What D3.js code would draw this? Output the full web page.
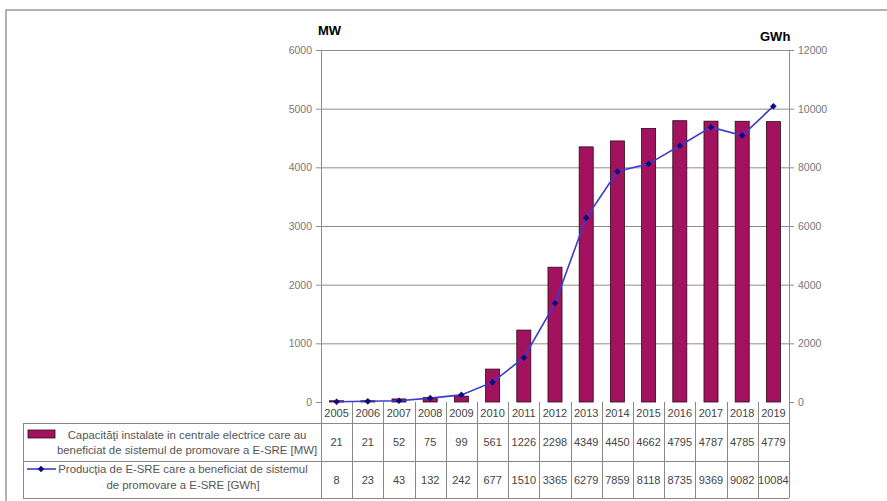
<!DOCTYPE html>
<html>
<head>
<meta charset="utf-8">
<script src="https://cdn.jsdelivr.net/npm/d3@7"></script>
<style>
  body { margin: 0; background: #fff; }
  svg { display: block; font-family: "Liberation Sans Narrow", "Liberation Sans", Arial, sans-serif; }
  .cell { fill: #444; font-size: 11px; }
  .leg { fill: #555; font-size: 11.4px; }
</style>
</head>
<body>
<svg width="887" height="501"></svg>
<script>
// data
let years = ["2005","2006","2007","2008","2009","2010","2011","2012","2013","2014","2015","2016","2017","2018","2019"];
let capacity = [21, 21, 52, 75, 99, 561, 1226, 2298, 4349, 4450, 4662, 4795, 4787, 4785, 4779];   // MW
let production = [8, 23, 43, 132, 242, 677, 1510, 3365, 6279, 7859, 8118, 8735, 9369, 9082, 10084]; // GWh
let leftTicks = [0, 1000, 2000, 3000, 4000, 5000, 6000];
let rightTicks = [0, 2000, 4000, 6000, 8000, 10000, 12000];
let legendCap = ["Capacităţi instalate in centrale electrice care au", "beneficiat de sistemul de promovare a E-SRE [MW]"];
let legendProd = ["Producţia de E-SRE care a beneficiat de sistemul", "de promovare a E-SRE [GWh]"];

let svg = d3.select("svg");

// plot box
let pLeft = 321, pRight = 789, pTop = 50, pBottom = 402;
let gridCol = "#8c8c8c";

let x = d3.scaleBand().domain(years).range([pLeft, pRight]).paddingInner(0.55).paddingOuter(0.275);
let xc = d3.scaleBand().domain(years).range([pLeft, pRight]); // table columns
let yL = d3.scaleLinear().domain([0, 6000]).range([pBottom, pTop]);
let yR = d3.scaleLinear().domain([0, 12000]).range([pBottom, pTop]);

// outer frame
svg.append("path")
  .attr("d", "M6,501 V10 H887")
  .style("fill", "none").style("stroke", "#999").style("stroke-width", 1.5);

// gridlines
svg.append("g")
  .selectAll("line")
  .data(leftTicks.slice(1))
  .join("line")
  .attr("x1", pLeft).attr("x2", pRight)
  .attr("y1", d => yL(d) + 0.5).attr("y2", d => yL(d) + 0.5)
  .style("stroke", gridCol).style("stroke-width", 1);

// axes
let axL = svg.append("g")
  .attr("transform", "translate(" + pLeft + ",0)")
  .call(d3.axisLeft(yL).tickValues(leftTicks).tickSize(5).tickPadding(4).tickFormat(d3.format("d")));
let axR = svg.append("g")
  .attr("transform", "translate(" + pRight + ",0)")
  .call(d3.axisRight(yR).tickValues(rightTicks).tickSize(5).tickPadding(4).tickFormat(d3.format("d")));
[axL, axR].forEach(a => {
  a.select(".domain").style("stroke", gridCol).attr("d", "M0.5," + pTop + "V" + pBottom);
  a.selectAll(".tick line").style("stroke", gridCol);
  a.selectAll(".tick text").style("font-size", "10.5px").style("fill", "#777")
    .style("font-family", "Liberation Sans Narrow, Liberation Sans, Arial");
});

// axis unit labels
svg.append("text").attr("x", 318).attr("y", 35)
  .style("font-weight", "bold").style("font-size", "13px").text("MW");
svg.append("text").attr("x", 760).attr("y", 41)
  .style("font-weight", "bold").style("font-size", "13px").text("GWh");

// bars
svg.append("g")
  .selectAll("rect")
  .data(capacity)
  .join("rect")
  .attr("x", (d, i) => x(years[i]))
  .attr("y", d => yL(d))
  .attr("width", x.bandwidth())
  .attr("height", d => pBottom - yL(d))
  .style("fill", "#a3125e")
  .style("stroke", "#2a0a18")
  .style("stroke-width", 0.8);

// line + markers
let line = d3.line()
  .x((d, i) => xc(years[i]) + xc.bandwidth() / 2)
  .y(d => yR(d));

svg.append("path")
  .datum(production)
  .attr("d", line)
  .style("fill", "none")
  .style("stroke", "#3b3bcc")
  .style("stroke-width", 1.6);

// square diamond marker (rotated square)
let diamond = d3.symbol().type(d3.symbolSquare).size(22);
svg.append("g")
  .selectAll("path")
  .data(production)
  .join("path")
  .attr("d", diamond)
  .attr("transform", (d, i) => "translate(" + (xc(years[i]) + xc.bandwidth() / 2) + "," + yR(d) + ") rotate(45)")
  .style("fill", "#0c0c80");

// data table
let tblLeft = 23, rowYear = 423, row1 = 461, row2 = 498;
let tbl = svg.append("g").style("stroke", "#888").style("stroke-width", 1);

// horizontal rules
tbl.append("line").attr("x1", tblLeft).attr("x2", pRight).attr("y1", rowYear + 0.5).attr("y2", rowYear + 0.5);
tbl.append("line").attr("x1", tblLeft).attr("x2", pRight).attr("y1", row1 + 0.5).attr("y2", row1 + 0.5);
tbl.append("line").attr("x1", tblLeft).attr("x2", pRight).attr("y1", row2 + 0.5).attr("y2", row2 + 0.5);
// vertical rules
tbl.append("line").attr("x1", tblLeft + 0.5).attr("x2", tblLeft + 0.5).attr("y1", rowYear).attr("y2", row2);
tbl.selectAll(".vcol")
  .data(years)
  .join("line")
  .attr("class", "vcol")
  .attr("x1", d => Math.round(xc(d)) + 0.5).attr("x2", d => Math.round(xc(d)) + 0.5)
  .attr("y1", pBottom).attr("y2", row2);
tbl.append("line").attr("x1", pRight + 0.5).attr("x2", pRight + 0.5).attr("y1", pBottom).attr("y2", row2);

// year labels
svg.append("g")
  .selectAll("text")
  .data(years)
  .join("text")
  .attr("class", "cell")
  .attr("x", d => xc(d) + xc.bandwidth() / 2)
  .attr("y", 417)
  .attr("text-anchor", "middle")
  .text(d => d);

// value rows
svg.append("g")
  .selectAll("text")
  .data(capacity)
  .join("text")
  .attr("class", "cell")
  .attr("x", (d, i) => xc(years[i]) + xc.bandwidth() / 2)
  .attr("y", 446)
  .attr("text-anchor", "middle")
  .text(d => d);

svg.append("g")
  .selectAll("text")
  .data(production)
  .join("text")
  .attr("class", "cell")
  .attr("x", (d, i) => xc(years[i]) + xc.bandwidth() / 2)
  .attr("y", 484)
  .attr("text-anchor", "middle")
  .text(d => d);

// legend cells
svg.append("rect")
  .attr("x", 28).attr("y", 430).attr("width", 27).attr("height", 8)
  .style("fill", "#a3125e").style("stroke", "#2a0a18").style("stroke-width", 0.8);

svg.append("line")
  .attr("x1", 27).attr("x2", 56).attr("y1", 469).attr("y2", 469)
  .style("stroke", "#3b3bcc").style("stroke-width", 1.6);
svg.append("path")
  .attr("d", diamond)
  .attr("transform", "translate(41,469) rotate(45)")
  .style("fill", "#0c0c80");

svg.append("g")
  .selectAll("text")
  .data(legendCap)
  .join("text")
  .attr("class", "leg")
  .attr("x", 187)
  .attr("y", (d, i) => 439 + i * 15)
  .attr("text-anchor", "middle")
  .text(d => d);

svg.append("g")
  .selectAll("text")
  .data(legendProd)
  .join("text")
  .attr("class", "leg")
  .attr("x", 183)
  .attr("y", (d, i) => 473 + i * 16)
  .attr("text-anchor", "middle")
  .text(d => d);
</script>
</body>
</html>
